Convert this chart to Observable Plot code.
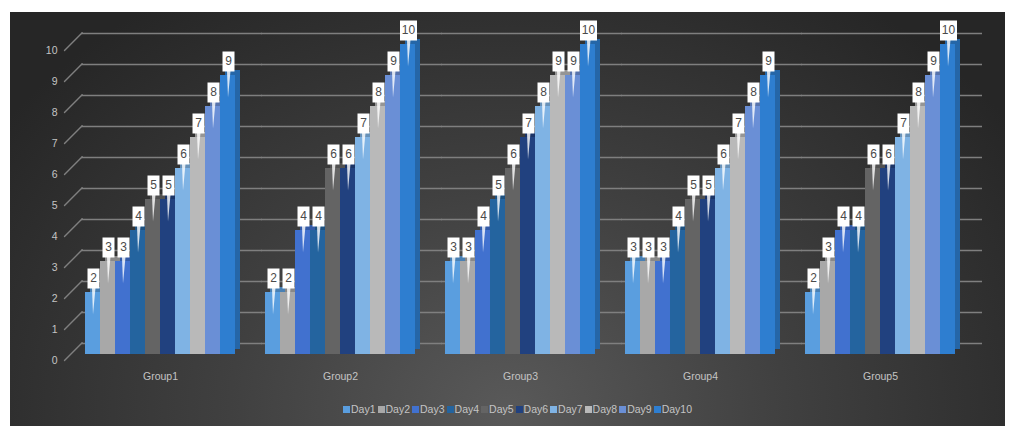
<!DOCTYPE html>
<html><head><meta charset="utf-8">
<script src="https://cdn.jsdelivr.net/npm/d3@7"></script>
<script src="https://cdn.jsdelivr.net/npm/@observablehq/plot@0.6"></script>
<style>
html,body{margin:0;padding:0;background:#fff;width:1010px;height:426px;overflow:hidden;}
#frame{position:absolute;left:10px;top:12px;width:995px;height:414px;
  background:radial-gradient(ellipse 62% 120% at 50% 96%, #595959 0%, #404040 45%, #262626 100%);}
#chart{position:absolute;left:0;top:0;}
#legend{position:absolute;left:11px;top:391px;width:995px;display:flex;justify-content:center;}
.lg-swatches-wrap{min-height:0 !important;margin:0 !important;justify-content:center;}
.lg-swatch{margin-right:2px !important;}
.lg-swatch > svg{margin-right:1px !important;}
</style></head>
<body><div id="frame"><div id="chart"></div><div id="legend"></div></div>
<script>
const groups = ["Group1", "Group2", "Group3", "Group4", "Group5"];
const days = ["Day1", "Day2", "Day3", "Day4", "Day5", "Day6", "Day7", "Day8", "Day9", "Day10"];
const group1 = [2, 3, 3, 4, 5, 5, 6, 7, 8, 9];
const group2 = [2, 2, 4, 4, 6, 6, 7, 8, 9, 10];
const group3 = [3, 3, 4, 5, 6, 7, 8, 9, 9, 10];
const group4 = [3, 3, 3, 4, 5, 5, 6, 7, 8, 9];
const group5 = [2, 3, 4, 4, 6, 6, 7, 8, 9, 10];
const yTicks = [0, 1, 2, 3, 4, 5, 6, 7, 8, 9, 10];
const dayColors = ["#5a9edf", "#a8a8a8", "#4171cf", "#24649f", "#646464", "#21417f", "#7fb3e4", "#b9b9b9", "#6a8fd6", "#2e7ed0"];

const series = [group1, group2, group3, group4, group5];
const rows = groups.flatMap((g, i) => days.map((d, j) => ({group: g, day: d, value: series[i][j], shade: d3.color(dayColors[j]).darker(0.6).formatHex()})));
const tickRows = yTicks.map(t => ({t, g: groups[0]}));

const font = '"Liberation Sans Narrow", "Liberation Sans", sans-serif';
const gridColor = "#7f7f7f";
const labelColor = "#c4c4c4";

const boxShape = w => ({draw(ctx) { ctx.rect(-w / 2 + 0.5, -24, w, 20); }});
const spikeShape = {draw(ctx) { ctx.moveTo(-1, -4.5); ctx.lineTo(2.5, -4.5); ctx.lineTo(0, 22); ctx.closePath(); }};

const plot = Plot.plot({
  width: 995,
  height: 385,
  marginTop: 32,
  marginBottom: 43,
  marginLeft: 73,
  marginRight: 48,
  style: {background: "transparent", fontFamily: font, color: labelColor},
  fx: {domain: groups, paddingInner: 0.158, paddingOuter: 0, label: null},
  x: {domain: days, padding: 0, axis: null},
  y: {domain: [0, 10], axis: null},
  color: {domain: days, range: dayColors},
  marks: [
    Plot.ruleY(yTicks, {y: d => d, dy: -11, insetLeft: -3, insetRight: -26, stroke: gridColor, strokeWidth: 1.4}),
    Plot.vector(tickRows, {fx: "g", y: "t", frameAnchor: "left", dx: -20, dy: 6, length: 25, rotate: 45, anchor: "start", r: 0, stroke: gridColor, strokeWidth: 1.4}),
    Plot.text(tickRows, {fx: "g", y: "t", text: d => String(d.t), frameAnchor: "left", textAnchor: "end", dx: -27, dy: 6, fill: labelColor, fontSize: 10.5}),
    Plot.barY(rows, {fx: "group", x: "day", y: "value", fill: {value: "shade", scale: null}, dx: 5, dy: -5, inset: 0}),
    Plot.barY(rows, {fx: "group", x: "day", y: "value", fill: "day", inset: 0}),
    Plot.vector(rows, {fx: "group", x: "day", y: "value", anchor: "start", shape: spikeShape, fill: "white", fillOpacity: 0.8, stroke: "none"}),
    Plot.vector(rows.filter(d => d.value < 10), {fx: "group", x: "day", y: "value", anchor: "start", shape: boxShape(12), fill: "white", stroke: "none"}),
    Plot.vector(rows.filter(d => d.value >= 10), {fx: "group", x: "day", y: "value", anchor: "start", shape: boxShape(17), fill: "white", stroke: "none"}),
    Plot.text(rows, {fx: "group", x: "day", y: "value", text: d => String(d.value), dx: 0.5, dy: -14, fill: "#4a4a4a", fontSize: 12}),
    Plot.axisFx({anchor: "bottom", tickSize: 0, tickPadding: 18, label: null, fill: labelColor, fontSize: 10.5})
  ]
});
document.getElementById("chart").appendChild(plot);
const legend = plot.legend("color", {swatchSize: 7, className: "lg", style: {fontFamily: font, fontSize: "10.5px", color: labelColor, background: "transparent"}});
document.getElementById("legend").appendChild(legend);
</script></body></html>
